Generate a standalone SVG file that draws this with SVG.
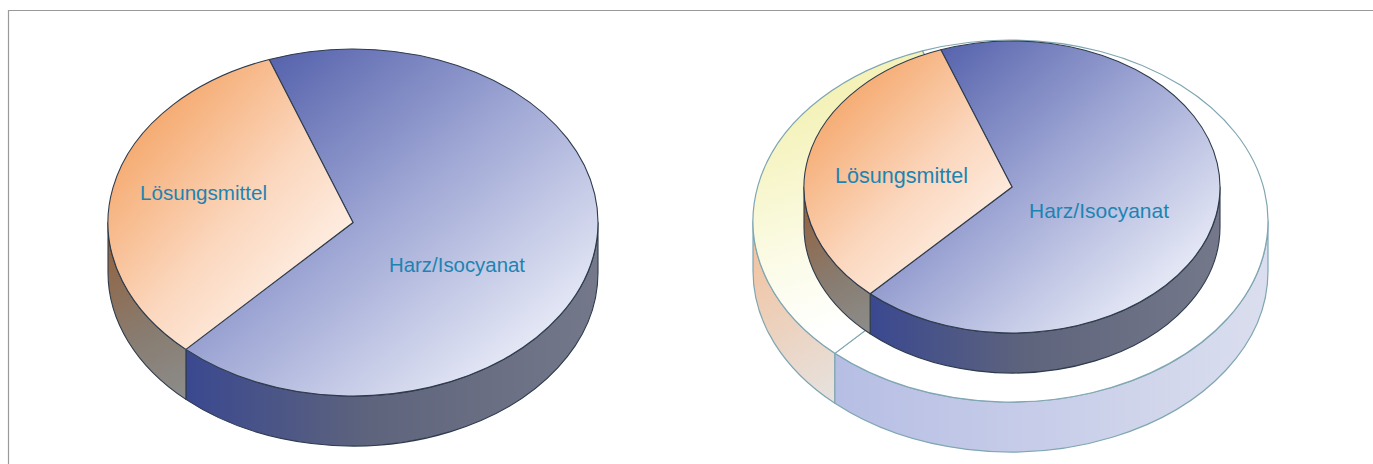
<svg xmlns="http://www.w3.org/2000/svg" width="1373" height="464" viewBox="0 0 1373 464">
<style>
.edge{stroke:#2e3b4c;stroke-width:1.1;stroke-linejoin:round}
.ring{stroke:#7fa6b2;stroke-width:1.2;stroke-linejoin:round}
.lbl{font-family:"Liberation Sans",Arial,sans-serif;fill:#1d84b2;lengthAdjust:spacingAndGlyphs}
</style>
<defs>
<linearGradient id="lBlueTop" gradientUnits="userSpaceOnUse" x1="270" y1="50" x2="545" y2="385">
<stop offset="0" stop-color="#5461ab"/><stop offset="0.45" stop-color="#9ea6d4"/><stop offset="1" stop-color="#f3f5fc"/>
</linearGradient>
<linearGradient id="lOrTop" gradientUnits="userSpaceOnUse" x1="125" y1="110" x2="335" y2="300">
<stop offset="0" stop-color="#f4a262"/><stop offset="0.55" stop-color="#fbd7be"/><stop offset="1" stop-color="#fff6ef"/>
</linearGradient>
<linearGradient id="lBlueSide" gradientUnits="userSpaceOnUse" x1="186" y1="0" x2="598" y2="0">
<stop offset="0" stop-color="#3a4890"/><stop offset="0.45" stop-color="#5e647c"/><stop offset="1" stop-color="#74788a"/>
</linearGradient>
<linearGradient id="lOrSide" gradientUnits="userSpaceOnUse" x1="108" y1="230" x2="186" y2="395">
<stop offset="0" stop-color="#94603a"/><stop offset="0.6" stop-color="#887c70"/><stop offset="1" stop-color="#8c8c8a"/>
</linearGradient>
<linearGradient id="rBlueTop" gradientUnits="userSpaceOnUse" x1="935" y1="45" x2="1180" y2="320">
<stop offset="0" stop-color="#5461ab"/><stop offset="0.45" stop-color="#9ea6d4"/><stop offset="1" stop-color="#f3f5fc"/>
</linearGradient>
<linearGradient id="rOrTop" gradientUnits="userSpaceOnUse" x1="820" y1="85" x2="1000" y2="265">
<stop offset="0" stop-color="#f4a262"/><stop offset="0.55" stop-color="#fbd7be"/><stop offset="1" stop-color="#fff6ef"/>
</linearGradient>
<linearGradient id="rBlueSide" gradientUnits="userSpaceOnUse" x1="870" y1="0" x2="1220" y2="0">
<stop offset="0" stop-color="#3a4890"/><stop offset="0.45" stop-color="#5e647c"/><stop offset="1" stop-color="#74788a"/>
</linearGradient>
<linearGradient id="rOrSide" gradientUnits="userSpaceOnUse" x1="804" y1="195" x2="870" y2="330">
<stop offset="0" stop-color="#94603a"/><stop offset="0.6" stop-color="#887c70"/><stop offset="1" stop-color="#8c8c8a"/>
</linearGradient>
<linearGradient id="oYellowTop" gradientUnits="userSpaceOnUse" x1="765" y1="120" x2="840" y2="330">
<stop offset="0" stop-color="#f4f2b8"/><stop offset="0.6" stop-color="#fbfbe6"/><stop offset="1" stop-color="#ffffff"/>
</linearGradient>
<linearGradient id="oOrSide" gradientUnits="userSpaceOnUse" x1="755" y1="240" x2="835" y2="400">
<stop offset="0" stop-color="#f2c29e"/><stop offset="1" stop-color="#e6e2df"/>
</linearGradient>
<linearGradient id="oBlueSide" gradientUnits="userSpaceOnUse" x1="835" y1="0" x2="1268" y2="0">
<stop offset="0" stop-color="#b6bee4"/><stop offset="1" stop-color="#dadeee"/>
</linearGradient>
</defs>
<rect width="1373" height="464" fill="#ffffff"/>
<g id="frame">
<path d="M8.5 464 V10.5 H1373" fill="none" stroke="#9a9a9a" stroke-width="1.2"/>
</g>
<g id="left-pie">
<g id="left-harz">
<path class="edge" fill="url(#lBlueSide)" d="M598 222.5 A245 173.5 0 0 1 185.91 349.39 L185.91 399.39 A245 173.5 0 0 0 598 272.5 Z"/>
<path class="edge" fill="url(#lBlueTop)" d="M353 222.5 L269.21 59.46 A245 173.5 0 1 1 185.91 349.39 Z"/>
<text class="lbl" x="389" y="271.5" font-size="20.5" textLength="136" lengthAdjust="spacingAndGlyphs">Harz/Isocyanat</text>
</g>
<g id="left-loesungsmittel">
<path class="edge" fill="url(#lOrSide)" d="M185.91 349.39 A245 173.5 0 0 1 108 222.5 L108 272.5 A245 173.5 0 0 0 185.91 399.39 Z"/>
<path class="edge" fill="url(#lOrTop)" d="M353 222.5 L185.91 349.39 A245 173.5 0 0 1 269.21 59.46 Z"/>
<text class="lbl" x="140" y="200" font-size="21" textLength="127" lengthAdjust="spacingAndGlyphs">Lösungsmittel</text>
</g>
</g>
<g id="right-pie">
<g id="outer-ring">
<path class="ring" fill="url(#oOrSide)" d="M834.89 353.37 A257.5 181 0 0 1 753 221 L753 271 A257.5 181 0 0 0 834.89 403.37 Z"/>
<path class="ring" fill="url(#oBlueSide)" d="M1268 221 A257.5 181 0 0 1 834.89 353.37 L834.89 403.37 A257.5 181 0 0 0 1268 271 Z"/>
<path class="ring" fill="#ffffff" d="M1010.5 221 L922.43 50.92 A257.5 181 0 1 1 834.89 353.37 Z"/>
<path class="ring" fill="url(#oYellowTop)" d="M1010.5 221 L834.89 353.37 A257.5 181 0 0 1 922.43 50.92 Z"/>
</g>
<g id="right-harz">
<path class="edge" fill="url(#rBlueSide)" d="M1220 187 A208 146 0 0 1 870.14 293.78 L870.14 333.78 A208 146 0 0 0 1220 227 Z"/>
<path class="edge" fill="url(#rBlueTop)" d="M1012 187 L940.86 49.81 A208 146 0 1 1 870.14 293.78 Z"/>
<text class="lbl" x="1029" y="218" font-size="21" textLength="140" lengthAdjust="spacingAndGlyphs">Harz/Isocyanat</text>
</g>
<g id="right-loesungsmittel">
<path class="edge" fill="url(#rOrSide)" d="M870.14 293.78 A208 146 0 0 1 804 187 L804 227 A208 146 0 0 0 870.14 333.78 Z"/>
<path class="edge" fill="url(#rOrTop)" d="M1012 187 L870.14 293.78 A208 146 0 0 1 940.86 49.81 Z"/>
<text class="lbl" x="835" y="183" font-size="21.5" textLength="133" lengthAdjust="spacingAndGlyphs">Lösungsmittel</text>
</g>
</g>
</svg>
